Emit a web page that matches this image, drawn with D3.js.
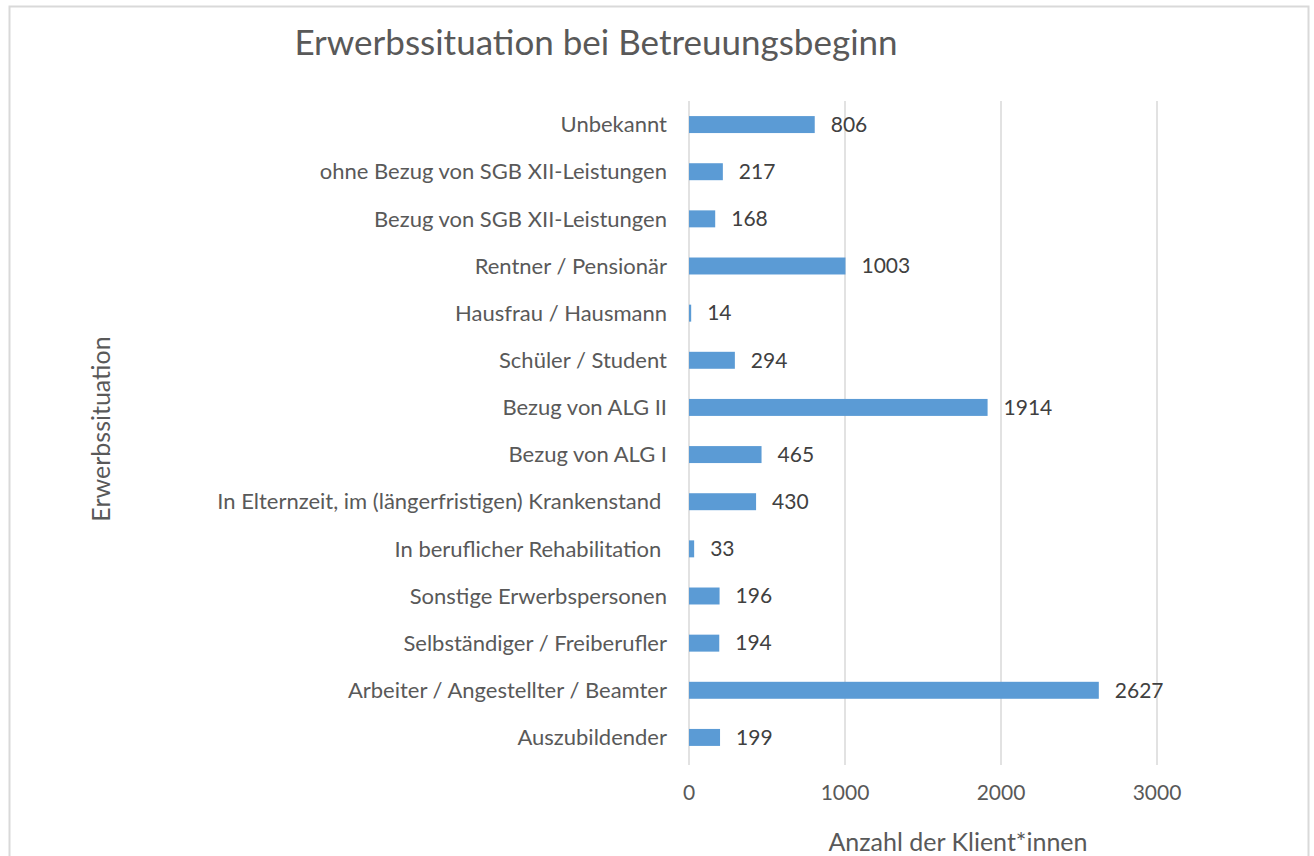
<!DOCTYPE html>
<html>
<head>
<meta charset="utf-8">
<script src="https://cdn.jsdelivr.net/npm/d3@7"></script>
<style>
  html, body { margin: 0; padding: 0; background: #fff; }
  svg { display: block; }
  text { font-family: Lato, "Open Sans", sans-serif; white-space: pre; }
</style>
</head>
<body>
<svg id="chart" width="1314" height="856"></svg>
<script>
"use strict";

// Categories top to bottom, as in the chart
var categories = [
    "Unbekannt",
    "ohne Bezug von SGB XII-Leistungen",
    "Bezug von SGB XII-Leistungen",
    "Rentner / Pensionär",
    "Hausfrau / Hausmann",
    "Schüler / Student",
    "Bezug von ALG II",
    "Bezug von ALG I",
    "In Elternzeit, im (längerfristigen) Krankenstand ",
    "In beruflicher Rehabilitation ",
    "Sonstige Erwerbspersonen",
    "Selbständiger / Freiberufler",
    "Arbeiter / Angestellter / Beamter",
    "Auszubildender"
];
var values = [806, 217, 168, 1003, 14, 294, 1914, 465, 430, 33, 196, 194, 2627, 199];
var xTicks = [0, 1000, 2000, 3000];

var titleText = "Erwerbssituation bei Betreuungsbeginn";
var xTitle = "Anzahl der Klient*innen";
var yTitle = "Erwerbssituation";

var svg = d3.select("#chart");

// Outer frame (runs off the bottom edge)
svg.append("rect")
    .attr("x", 9.5).attr("y", 6.5)
    .attr("width", 1299).attr("height", 900)
    .attr("fill", "none")
    .attr("stroke", "#d9d9d9").attr("stroke-width", 2);

var plot = { left: 689, right: 1157, top: 101, bottom: 765 };

var x = d3.scaleLinear().domain([0, 3000]).range([plot.left, plot.right]);
var y = d3.scaleBand().domain(categories).range([plot.top, 761])
    .paddingInner(0.64).paddingOuter(0.32);

// Gridlines
svg.append("g").selectAll("line")
    .data(xTicks)
    .join("line")
    .attr("x1", function(d){ return x(d); }).attr("x2", function(d){ return x(d); })
    .attr("y1", plot.top).attr("y2", plot.bottom)
    .attr("stroke", "#d9d9d9").attr("stroke-width", 1.5);

// Tick labels
svg.append("g").selectAll("text")
    .data(xTicks)
    .join("text")
    .attr("x", function(d){ return x(d); })
    .attr("y", 793)
    .attr("dy", "0.35em")
    .attr("text-anchor", "middle")
    .attr("font-size", 21)
    .attr("fill", "#595959")
    .text(function(d){ return d; });

// Bars
svg.append("g").selectAll("rect")
    .data(values)
    .join("rect")
    .attr("x", x(0))
    .attr("y", function(d, i){ return y(categories[i]); })
    .attr("width", function(d){ return x(d) - x(0); })
    .attr("height", y.bandwidth())
    .attr("fill", "#5b9bd5");

// Value labels
svg.append("g").selectAll("text")
    .data(values)
    .join("text")
    .attr("x", function(d){ return x(d) + 16; })
    .attr("y", function(d, i){ return y(categories[i]) + y.bandwidth() / 2; })
    .attr("dy", "0.35em")
    .attr("font-size", 21)
    .attr("fill", "#404040")
    .text(function(d){ return d; });

// Category labels
svg.append("g").selectAll("text")
    .data(categories)
    .join("text")
    .attr("x", 667)
    .attr("y", function(d){ return y(d) + y.bandwidth() / 2; })
    .attr("dy", "0.35em")
    .attr("text-anchor", "end")
    .attr("font-size", 22)
    .attr("fill", "#595959")
    .text(function(d){ return d; });

// Titles
svg.append("text")
    .attr("x", 596).attr("y", 43)
    .attr("dy", "0.35em")
    .attr("text-anchor", "middle")
    .attr("font-size", 35)
    .attr("fill", "#595959")
    .text(titleText);

svg.append("text")
    .attr("x", 958).attr("y", 842)
    .attr("dy", "0.35em")
    .attr("text-anchor", "middle")
    .attr("font-size", 25)
    .attr("fill", "#595959")
    .text(xTitle);

svg.append("text")
    .attr("transform", "translate(101,429) rotate(-90)")
    .attr("dy", "0.35em")
    .attr("text-anchor", "middle")
    .attr("font-size", 25)
    .attr("fill", "#595959")
    .text(yTitle);
</script>
</body>
</html>
